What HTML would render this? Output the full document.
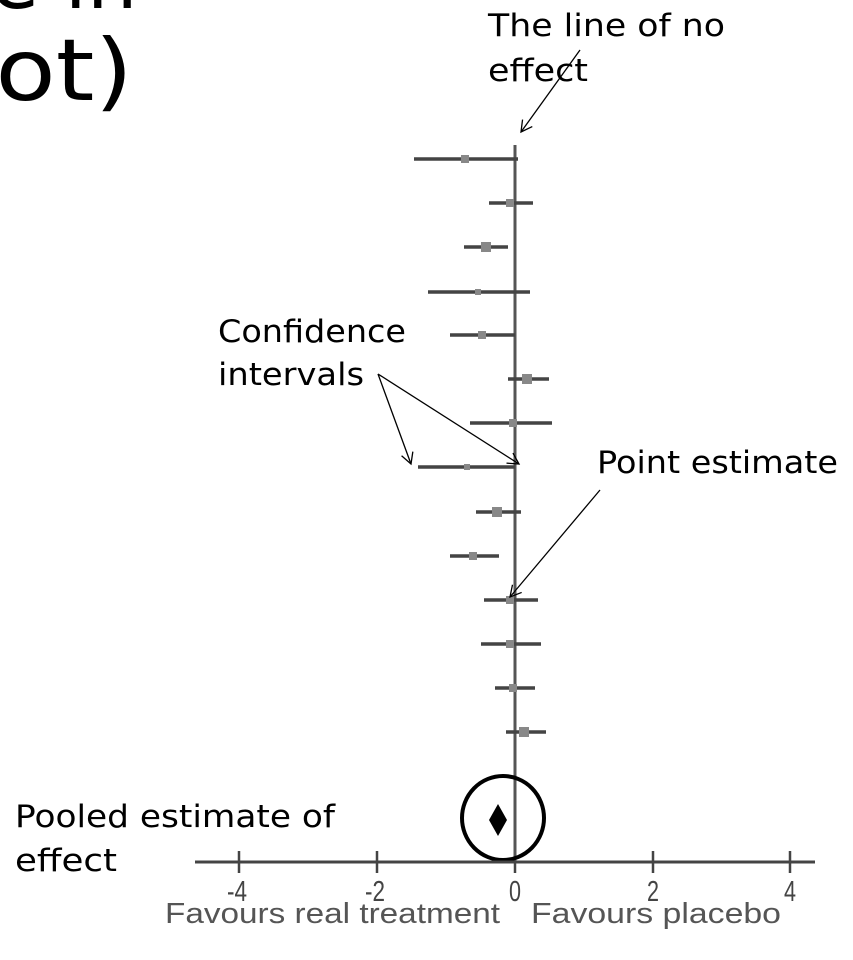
<!DOCTYPE html>
<html><head><style>
html,body{margin:0;padding:0;background:#fff;}
body{width:853px;height:960px;overflow:hidden;position:relative;}
svg{position:absolute;left:0;top:0;}
</style></head><body>
<svg width="853" height="960" viewBox="0 0 853 960" xmlns="http://www.w3.org/2000/svg">
<defs>
<marker id="ah" markerWidth="14" markerHeight="14" refX="12" refY="7" orient="auto" markerUnits="userSpaceOnUse">
<path d="M1,1 L12,7 L1,13" fill="none" stroke="#000" stroke-width="1.3"/>
</marker>
</defs>
<text x="-10" y="8" font-family="DejaVu Sans, sans-serif" font-size="80" fill="#000">e in</text>
<text x="-32" y="100" font-family="DejaVu Sans, sans-serif" font-size="86" fill="#000" textLength="165" lengthAdjust="spacingAndGlyphs">lot)</text>

<g font-family="DejaVu Sans, sans-serif" font-size="31" fill="#000">
<text x="488" y="36" textLength="237" lengthAdjust="spacingAndGlyphs">The line of no</text>
<text x="488" y="81" textLength="100" lengthAdjust="spacingAndGlyphs">effect</text>
<text x="218" y="342" textLength="188" lengthAdjust="spacingAndGlyphs">Confidence</text>
<text x="218" y="385" textLength="146" lengthAdjust="spacingAndGlyphs">intervals</text>
<text x="597" y="473" textLength="241" lengthAdjust="spacingAndGlyphs">Point estimate</text>
<text x="15" y="827" textLength="320" lengthAdjust="spacingAndGlyphs">Pooled estimate of</text>
<text x="15" y="871" textLength="102" lengthAdjust="spacingAndGlyphs">effect</text>
</g>

<line x1="515" y1="145" x2="515" y2="862" stroke="#555" stroke-width="3"/>

<g stroke="#444" stroke-width="3.5">
<line x1="414" y1="159" x2="518" y2="159"/>
<line x1="489" y1="203" x2="533" y2="203"/>
<line x1="464" y1="247" x2="508" y2="247"/>
<line x1="428" y1="292" x2="530" y2="292"/>
<line x1="450" y1="335" x2="515" y2="335"/>
<line x1="508" y1="379" x2="549" y2="379"/>
<line x1="470" y1="423" x2="552" y2="423"/>
<line x1="418" y1="467" x2="515" y2="467"/>
<line x1="476" y1="512" x2="521" y2="512"/>
<line x1="450" y1="556" x2="499" y2="556"/>
<line x1="484" y1="600" x2="538" y2="600"/>
<line x1="481" y1="644" x2="541" y2="644"/>
<line x1="495" y1="688" x2="535" y2="688"/>
<line x1="506" y1="732" x2="546" y2="732"/>
</g>
<g fill="#888">
<rect x="461" y="155" width="8" height="8"/>
<rect x="506" y="199" width="8" height="8"/>
<rect x="481" y="242" width="10" height="10"/>
<rect x="475" y="289" width="6" height="6"/>
<rect x="478" y="331" width="8" height="8"/>
<rect x="522" y="374" width="10" height="10"/>
<rect x="509" y="419" width="8" height="8"/>
<rect x="464" y="464" width="6" height="6"/>
<rect x="492" y="507" width="10" height="10"/>
<rect x="469" y="552" width="8" height="8"/>
<rect x="506" y="596" width="8" height="8"/>
<rect x="506" y="640" width="8" height="8"/>
<rect x="509" y="684" width="8" height="8"/>
<rect x="519" y="727" width="10" height="10"/>
</g>

<polygon points="498,804 507,820 498,836 489,820" fill="#000"/>
<ellipse cx="503" cy="818" rx="41" ry="42" fill="none" stroke="#000" stroke-width="4"/>

<line x1="195" y1="862" x2="815" y2="862" stroke="#444" stroke-width="3"/>
<g stroke="#444" stroke-width="2.5">
<line x1="239" y1="851" x2="239" y2="873"/>
<line x1="377" y1="851" x2="377" y2="873"/>
<line x1="653" y1="851" x2="653" y2="873"/>
<line x1="790" y1="851" x2="790" y2="873"/>
<line x1="515" y1="862" x2="515" y2="873"/>
</g>
<g font-family="Liberation Sans, sans-serif" font-size="29" fill="#444" text-anchor="middle">
<text x="237" y="901" textLength="20" lengthAdjust="spacingAndGlyphs">-4</text>
<text x="375" y="901" textLength="20" lengthAdjust="spacingAndGlyphs">-2</text>
<text x="515" y="901" textLength="12" lengthAdjust="spacingAndGlyphs">0</text>
<text x="653" y="901" textLength="12" lengthAdjust="spacingAndGlyphs">2</text>
<text x="790" y="901" textLength="12" lengthAdjust="spacingAndGlyphs">4</text>
</g>
<text x="165" y="923" font-family="Liberation Sans, sans-serif" font-size="29" fill="#555" textLength="335" lengthAdjust="spacingAndGlyphs">Favours real treatment</text>
<text x="531" y="923" font-family="Liberation Sans, sans-serif" font-size="29" fill="#555" textLength="250" lengthAdjust="spacingAndGlyphs">Favours placebo</text>

<g stroke="#000" stroke-width="1.3" fill="none">
<line x1="580" y1="50" x2="521" y2="132" marker-end="url(#ah)"/>
<line x1="378" y1="374" x2="411" y2="464" marker-end="url(#ah)"/>
<line x1="378" y1="374" x2="519" y2="464" marker-end="url(#ah)"/>
<line x1="600" y1="490" x2="510" y2="597" marker-end="url(#ah)"/>
</g>
</svg>
</body></html>
